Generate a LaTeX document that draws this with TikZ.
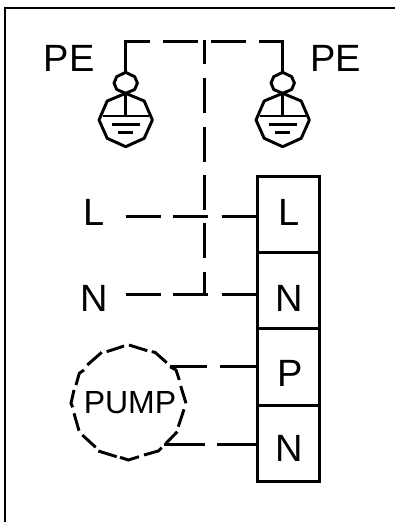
\documentclass[tikz,border=0pt]{standalone}
\usepackage{fontspec}
\setmainfont{Liberation Sans}
\tikzset{
  x=0.75pt,y=-0.75pt,
  wire/.style={line width=2.2pt,line cap=butt,line join=miter},
  boxcell/.style={draw,line width=2.2pt,minimum width=46.5pt,inner sep=0pt,anchor=north west},
  lbl/.style={inner sep=0pt,anchor=base,font=\fontsize{28.5pt}{28.5pt}\selectfont,text=black},
  pumplbl/.style={inner sep=0pt,anchor=base,font=\fontsize{24pt}{24pt}\selectfont},
  sym/.style={line width=2.2pt,line join=round}
}
\begin{document}
\begin{tikzpicture}
\useasboundingbox (0,0) rectangle (395,522);
\fill[white] (0,0) rectangle (395,522);
\draw[line width=2pt] (5,522) -- (5,8) -- (395,8);

\node[lbl] (pel) at (69,71.7) {PE};
\node[lbl] (per) at (335.5,71.7) {PE};
\node[lbl] (ll) at (94.5,225) {L};
\node[lbl] (nl) at (94.7,311.7) {N};

\node[boxcell,minimum height=57pt] (tl) at (256,175) {};
\node[boxcell,minimum height=57pt] (tn) at (256,251) {};
\node[boxcell,minimum height=58pt] (tp) at (256,327) {};
\node[boxcell,minimum height=57pt] (tn2) at (256,404) {};
\node[lbl] (tll) at (289,225) {L};
\node[lbl] (tnl) at (289.5,311.7) {N};
\node[lbl] (tpl) at (290,386) {P};
\node[lbl] (tnnl) at (289.5,461.7) {N};

\coordinate (topl) at (125.7,41.7);
\coordinate (topr) at (282.7,41.7);

\foreach \cx/\nm in {125.7/a,282.7/b}{
  \draw[sym] (\cx,72.3)--(\cx+9,76.7)--(\cx+11.7,83)--(\cx+9,89.5)--(\cx,93.3)--(\cx-9,89.5)--(\cx-11.7,83)--(\cx-9,76.7)--cycle;
  \draw[sym] (\cx,93.3)--(\cx+18.5,101)--(\cx+26.7,120)--(\cx+18.5,138.3)--(\cx,146.7)--(\cx-18.5,138.3)--(\cx-26.7,120)--(\cx-18.5,101)--cycle;
  \draw[sym] (\cx,93.3)--(\cx,116);
  \draw[sym] (\cx-23,116)--(\cx+23,116);
  \draw[wire] (\cx-14.2,124.3)--(\cx+14.2,124.3);
  \draw[wire] (\cx-7.5,132.3)--(\cx+7.5,132.3);
}

\draw[wire] (125.7,72.3)--(topl)--(150,41.7);
\draw[wire] (162.7,41.7)--(198.3,41.7);
\draw[wire] (211,41.7)--(246,41.7);
\draw[wire] (259.3,41.7)--(topr)--(282.7,72.3);
\draw[wire] (204.7,40)--(204.7,64.3);
\draw[wire] (204.7,77.7)--(204.7,112.7);
\draw[wire] (204.7,126.7)--(204.7,161.7);
\draw[wire] (204.7,175)--(204.7,209.5);
\draw[wire] (204.7,222.7)--(204.7,258.3);
\draw[wire] (204.7,271.7)--(204.7,295.3);

\draw[wire] (125.7,216.7)--(160.7,216.7);
\draw[wire] (173.3,216.7)--(208.3,216.7);
\draw[wire] (221.7,216.7)--(tl.west|-0,216.7);
\draw[wire] (125.7,294.3)--(160.7,294.3);
\draw[wire] (173.3,294.3)--(208.3,294.3);
\draw[wire] (221.7,294.3)--(tn.west|-0,294.3);

\node[pumplbl] (pump) at (130,413.3) {PUMP};
\foreach \seg in {
  {(106.7,351.7)--(124,346)},
  {(129,345)--(147.3,350.7)},
  {(151.7,351.7)--(155,352.3)--(166.7,362.7)},
  {(170,366.7)--(176,370)--(179.3,380)},
  {(180.7,386)--(186,403.3)},
  {(184,409.3)--(178.3,426.7)},
  {(177.3,431.7)--(166,443.3)},
  {(161.7,447.7)--(158.3,451)--(144,455)},
  {(139,456.7)--(128.3,460)--(120,457.3)},
  {(116.7,456.7)--(98.3,451)},
  {(95.7,447.3)--(82.3,435)},
  {(79,430.7)--(74,413.3)},
  {(72.7,407.3)--(71,403.3)--(74,390)},
  {(76,385)--(79.3,373.3)--(84,370)},
  {(87.3,365)--(101.7,352.3)}
}{\draw[wire] \seg;}
\draw[wire] (170,366.4)--(206.7,366.4);
\draw[wire] (220,366.4)--(tp.west|-0,366.4);
\draw[wire] (164,444.4)--(205,444.4);
\draw[wire] (217.3,444.4)--(tn2.west|-0,444.4);
\end{tikzpicture}
\end{document}
